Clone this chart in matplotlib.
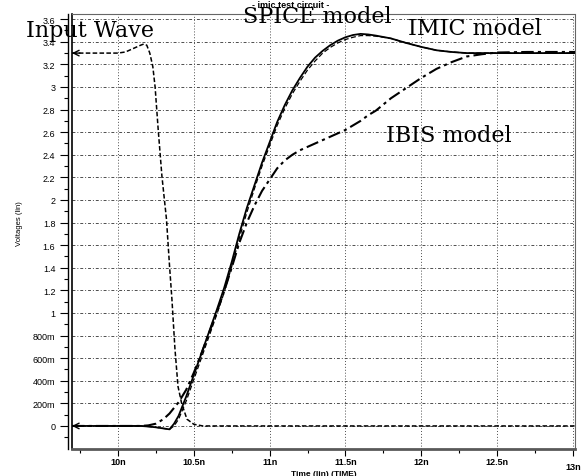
import matplotlib
matplotlib.use("Agg")
from matplotlib import pyplot as plt
from matplotlib.transforms import ScaledTranslation

# time axis in ns, voltages in V
t_in = [9.697, 10.0, 10.05, 10.1, 10.15, 10.17, 10.19, 10.21, 10.23, 10.245, 10.265,
        10.29, 10.32, 10.34, 10.356, 10.376, 10.396, 10.42, 10.455, 10.5, 10.56, 13.014]
v_in = [3.3, 3.3, 3.31, 3.34, 3.37, 3.38, 3.37, 3.3, 3.18, 3.0, 2.63,
        2.21, 1.83, 1.42, 1.12, 0.68, 0.35, 0.2, 0.06, 0.015, 0.0, 0.0]

t_out = [9.697, 10.15, 10.2, 10.25, 10.3, 10.34, 10.37, 10.4, 10.45, 10.5, 10.55,
         10.6, 10.65, 10.7, 10.75, 10.8, 10.85, 10.9, 10.95, 11.0, 11.05, 11.1,
         11.15, 11.2, 11.25, 11.3, 11.35, 11.4, 11.45, 11.5, 11.55, 11.6, 11.65,
         11.7, 11.8, 11.9, 12.0, 12.1, 12.2, 12.3, 12.4, 12.5, 12.7, 13.014]
v_spice = [0, 0, -0.005, -0.012, -0.022, -0.03, 0.02, 0.09, 0.26, 0.45, 0.64,
           0.83, 1.02, 1.22, 1.45, 1.7, 1.93, 2.13, 2.33, 2.51, 2.69, 2.84,
           2.97, 3.08, 3.18, 3.26, 3.32, 3.37, 3.41, 3.44, 3.46, 3.47, 3.465,
           3.455, 3.43, 3.39, 3.355, 3.325, 3.31, 3.3, 3.3, 3.3, 3.3, 3.3]
v_imic = [0, 0, -0.005, -0.012, -0.022, -0.03, 0.0, 0.06, 0.22, 0.41, 0.6,
          0.79, 0.98, 1.18, 1.41, 1.66, 1.89, 2.1, 2.3, 2.48, 2.66, 2.81,
          2.94, 3.05, 3.15, 3.23, 3.3, 3.35, 3.39, 3.42, 3.44, 3.455, 3.455,
          3.45, 3.43, 3.39, 3.355, 3.325, 3.31, 3.3, 3.3, 3.3, 3.3, 3.3]
v_ibis = [0, 0, 0.005, 0.02, 0.06, 0.11, 0.16, 0.21, 0.32, 0.47, 0.64,
          0.82, 1.0, 1.19, 1.4, 1.62, 1.8, 1.95, 2.08, 2.18, 2.28, 2.35,
          2.4, 2.44, 2.47, 2.5, 2.53, 2.56, 2.59, 2.62, 2.66, 2.7, 2.75,
          2.79, 2.9, 2.99, 3.08, 3.16, 3.22, 3.27, 3.29, 3.305, 3.31, 3.31]

xticks = [10.0, 10.5, 11.0, 11.5, 12.0, 12.5, 13.0]
xlabels = ['10n', '10.5n', '11n', '11.5n', '12n', '12.5n', '13n']
yticks = [0, 0.2, 0.4, 0.6, 0.8, 1.0, 1.2, 1.4, 1.6, 1.8, 2.0, 2.2, 2.4, 2.6,
          2.8, 3.0, 3.2, 3.4, 3.6]
ylabels = ['0', '200m', '400m', '600m', '800m', '1', '1.2', '1.4', '1.6', '1.8',
           '2', '2.2', '2.4', '2.6', '2.8', '3', '3.2', '3.4', '3.6']

plt.rcParams['font.family'] = ['Liberation Sans', 'DejaVu Sans']

W, H = 582, 477
fig = plt.figure(figsize=(W / 100, H / 100), dpi=100)
ax = fig.add_axes([72 / W, 1 - 450 / H, (575 - 72) / W, (450 - 15) / H])

ax.plot(t_in, v_in, color='k', lw=1.1, ls=(0, (3, 1.5)))
ax.plot(t_out, v_spice, color='k', lw=1.3, ls='-')
ax.plot(t_out, v_imic, color='k', lw=0.9, ls=(0, (4, 2)))
ax.plot(t_out, v_ibis, color='k', lw=1.5, ls=(0, (6, 2, 1.5, 2)))

ax.set_xlim(9.697, 13.014)
ax.set_ylim(-0.204, 3.646)

# arrow heads at the left edge
for y0 in [3.3, 0.0]:
    ax.annotate('', xy=(9.697, y0), xytext=(9.75, y0),
                arrowprops=dict(arrowstyle='->', lw=1.0, color='k',
                                shrinkA=0, shrinkB=0, mutation_scale=10))

ax.set_xticks(xticks)
ax.set_xticklabels(xlabels)
ax.set_yticks(yticks)
ax.set_yticklabels(ylabels)
ax.set_xticks([9.75 + 0.25 * i for i in range(14) if (9.75 + 0.25 * i) not in xticks], minor=True)
ax.set_yticks([-0.1 + 0.2 * i for i in range(19)], minor=True)
ax.tick_params(which='major', direction='out', length=6, width=0.8, pad=3, labelsize=6.5)
ax.tick_params(axis='x', which='major', length=5, pad=1)
ax.tick_params(which='minor', direction='out', length=3, width=0.8)
for lab in ax.get_xticklabels() + ax.get_yticklabels():
    lab.set_fontweight('bold')
lab = ax.get_xticklabels()[-1]
lab.set_transform(lab.get_transform() + ScaledTranslation(0, -3.5 / 72, fig.dpi_scale_trans))

ax.xaxis.grid(True, color='0.3', lw=0.7, ls=(0, (1, 2)))
ax.yaxis.grid(True, color='0.3', lw=0.7, ls=(0, (3, 2, 1, 2)))

ax.spines['left'].set_position(('outward', 3))
ax.spines['left'].set_linewidth(1.0)
ax.plot([0, 0], [0, 1], transform=ax.transAxes, color='k', lw=1.2, clip_on=False)
ax.spines['bottom'].set_color('0.35')
ax.spines['bottom'].set_linewidth(2.0)
for s in ['top', 'right']:
    ax.spines[s].set_color('0.4')
    ax.spines[s].set_linewidth(0.8)
    ax.spines[s].set_linestyle((0, (2, 1)))

ax.set_xlabel('Time (lin) (TIME)', fontsize=6, fontweight='bold')
ax.xaxis.set_label_coords(0.5, -0.048)
ax.set_ylabel('Voltages (lin)', fontsize=5.5)
ax.yaxis.set_label_coords(-0.097, 0.52)

fig.text(291 / W, 1 - 5 / H, '- imic test circuit -', fontsize=6.5, fontweight='bold',
         ha='center', va='center')

serif = dict(family='DejaVu Serif', fontsize=16, va='baseline', ha='left')
fig.text(26 / W, 1 - 37 / H, 'Input Wave', **serif)
fig.text(243 / W, 1 - 23 / H, 'SPICE model', **serif)
fig.text(408 / W, 1 - 35 / H, 'IMIC model', **serif)
fig.text(386 / W, 1 - 142 / H, 'IBIS model', **serif)

fig.savefig('out.png', dpi=100)
